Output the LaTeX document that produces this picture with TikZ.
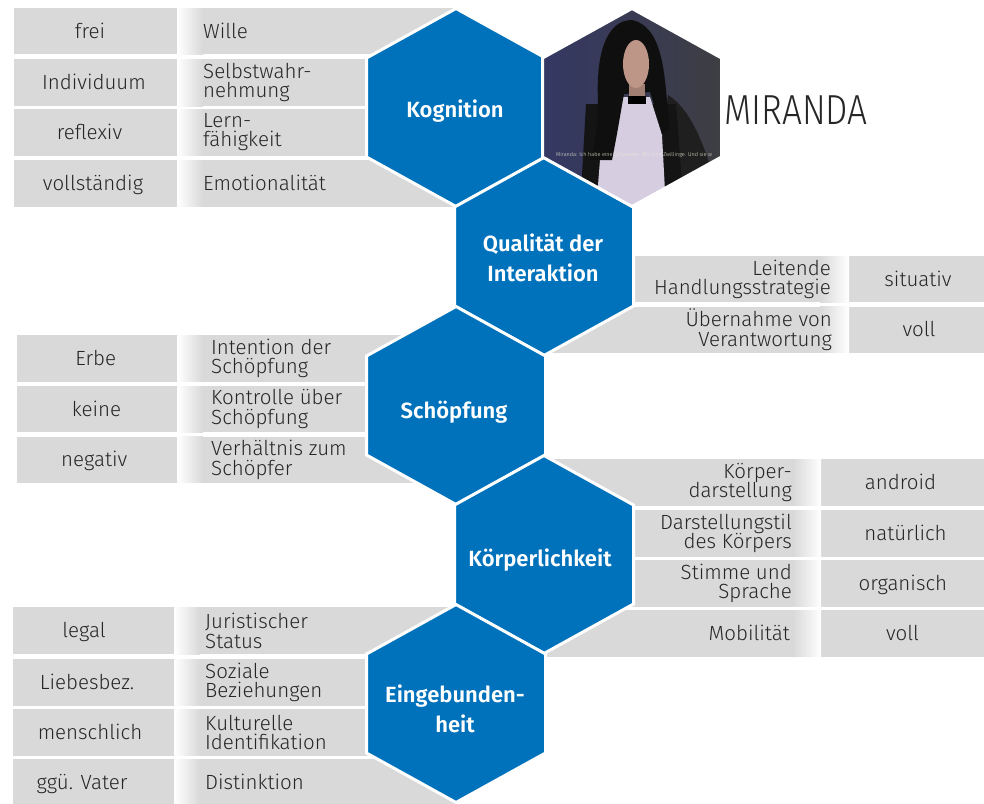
\documentclass[tikz,border=0pt]{standalone}
\usepackage{fontspec}
\setmainfont{Fira Sans Light}
\newfontfamily\hexfont{Fira Sans SemiBold}
\definecolor{hexblue}{RGB}{0,114,187}
\definecolor{bargray}{RGB}{217,217,217}
\definecolor{txt}{RGB}{38,38,38}
\definecolor{skin}{RGB}{190,150,135}
\definecolor{dress}{RGB}{214,205,225}
\definecolor{subcol}{RGB}{235,235,210}
\newcommand\hexshape[2]{(#1,#2-99) -- (#1+89.5,#2-49.5) -- (#1+89.5,#2+49.5) -- (#1,#2+99) -- (#1-89.5,#2+49.5) -- (#1-89.5,#2-49.5) -- cycle}
\tikzset{
  fadeL/.style={left color=white, right color=bargray},
  fadeR/.style={left color=bargray, right color=white},
  valtext/.style={font=\fontsize{20.5}{20}\selectfont, text=txt, inner sep=0pt, text height=14pt, text depth=0pt},
  onetext/.style={font=\fontsize{20.5}{20}\selectfont, text=txt, inner sep=0pt, text height=14pt, text depth=0pt},
  lbltext/.style={font=\fontsize{20.5}{19.5}\selectfont, text=txt, inner sep=0pt},
  hexbox/.style={fill=hexblue, draw=white, line width=3pt},
  hexlabel/.style={font=\hexfont\fontsize{22}{30}\selectfont, text=white, inner sep=0pt, align=center},
}
\begin{document}
\begin{tikzpicture}[x=1pt,y=-1pt]
\clip (0,0) rectangle (984,803);
\fill[white] (0,0) rectangle (984,803);

% ---- bars: Kognition (left)
\foreach \t/\b in {8.3/54.3, 59.3/106, 109/155.7, 160/206.7}{
  \fill[bargray] (14,\t) rectangle (456,\b);
  \shade[fadeL] (177,\t) rectangle (203,\b);
}
% ---- bars: Qualitaet (right)
\foreach \t/\b in {256/302.3, 306.7/352.7}{
  \fill[bargray] (544,\t) rectangle (984,\b);
  \shade[fadeR] (820,\t) rectangle (849,\b);
}
% ---- bars: Schoepfung (left)
\foreach \t/\b in {335/381.7, 386/432.3, 436.7/482.7}{
  \fill[bargray] (16.7,\t) rectangle (456,\b);
  \shade[fadeL] (177.3,\t) rectangle (203,\b);
}
% ---- bars: Koerperlichkeit (right)
\foreach \t/\b in {459/505.7, 510/556.7, 560/606.7, 610/656.7}{
  \fill[bargray] (544,\t) rectangle (984,\b);
  \shade[fadeR] (793,\t) rectangle (821,\b);
}
% ---- bars: Eingebundenheit (left)
\foreach \t/\b in {607.3/654.3, 659/705.7, 709/755.7, 759.3/806}{
  \fill[bargray] (13.3,\t) rectangle (456,\b);
  \shade[fadeL] (174.3,\t) rectangle (200,\b);
}

% ---- texts Kognition
\node[valtext] (kv1) at (90,31.3) {frei};
\node[valtext] (kv2) at (94,82.7) {Individuum};
\node[valtext] (kv3) at (89.5,132.3) {reflexiv};
\node[valtext] (kv4) at (93,183.3) {vollständig};
\node[onetext, anchor=west] (kl1) at (203,31.3) {Wille};
\node[lbltext, anchor=west, align=left] (kl2) at (203,82.7) {Selbstwahr-\\nehmung};
\node[lbltext, anchor=west, align=left] (kl3) at (203,132.3) {Lern-\\fähigkeit};
\node[onetext, anchor=west] (kl4) at (203,183.3) {Emotionalität};

% ---- texts Qualitaet
\node[lbltext, anchor=east, align=right] (ql1) at (831,279.2) {Leitende\\Handlungsstrategie};
\node[lbltext, anchor=east, align=right] (ql2) at (832,329.7) {Übernahme von\\Verantwortung};
\node[valtext] (qv1) at (918,279.2) {situativ};
\node[valtext] (qv2) at (919,329.7) {voll};

% ---- texts Schoepfung
\node[valtext] (sv1) at (95.7,358.3) {Erbe};
\node[valtext] (sv2) at (96.5,409.2) {keine};
\node[valtext] (sv3) at (94.2,459.7) {negativ};
\node[lbltext, anchor=west, align=left] (sl1) at (211,358.3) {Intention der\\Schöpfung};
\node[lbltext, anchor=west, align=left] (sl2) at (211,409.2) {Kontrolle über\\Schöpfung};
\node[lbltext, anchor=west, align=left] (sl3) at (211,459.7) {Verhältnis zum\\Schöpfer};

% ---- texts Koerperlichkeit
\node[lbltext, anchor=east, align=right] (pl1) at (792,482.3) {Körper-\\darstellung};
\node[lbltext, anchor=east, align=right] (pl2) at (792,533.3) {Darstellungstil\\des Körpers};
\node[lbltext, anchor=east, align=right] (pl3) at (792,583.3) {Stimme und\\Sprache};
\node[onetext, anchor=east] (pl4) at (790,633.3) {Mobilität};
\node[valtext] (pv1) at (900.5,482.3) {android};
\node[valtext] (pv2) at (905.5,533.3) {natürlich};
\node[valtext] (pv3) at (902.8,583.3) {organisch};
\node[valtext] (pv4) at (902.5,633.3) {voll};

% ---- texts Eingebundenheit
\node[valtext] (ev1) at (84,630.8) {legal};
\node[valtext] (ev2) at (87,682.3) {Liebesbez.};
\node[valtext] (ev3) at (90,732.3) {menschlich};
\node[valtext] (ev4) at (82,782.6) {ggü. Vater};
\node[lbltext, anchor=west, align=left] (el1) at (205,630.8) {Juristischer\\Status};
\node[lbltext, anchor=west, align=left] (el2) at (205,682.3) {Soziale\\Beziehungen};
\node[lbltext, anchor=west, align=left] (el3) at (205,732.3) {Kulturelle\\Identifikation};
\node[onetext, anchor=west] (el4) at (205,782.6) {Distinktion};

% ---- hexagons
\draw[hexbox] \hexshape{456}{107.5};
\draw[hexbox] \hexshape{544}{256.5};
\draw[hexbox] \hexshape{456}{405.5};
\draw[hexbox] \hexshape{544}{554.5};
\draw[hexbox] \hexshape{456}{703.5};

% ---- photo hexagon
\begin{scope}
  \clip \hexshape{632}{107.5};
  \shade[left color={rgb,255:red,52;green,56;blue,100}, right color={rgb,255:red,62;green,62;blue,66}] (540,5) rectangle (725,210);
  \fill[black!88] (668,95) .. controls (692,110) and (708,150) .. (722,210) -- (655,210) -- cycle;
  \fill[black!92] (586,104) -- (676,104) -- (684,210) -- (580,210) -- cycle;
  \fill[dress] (622,97) -- (650,97) -- (662,135) -- (666,210) -- (596,210) -- (602,135) -- cycle;
  \fill[black!94] (632,20) .. controls (604,20) and (596,60) .. (598,100) .. controls (598,128) and (594,148) .. (590,160) -- (612,160) .. controls (618,130) and (621,110) .. (624,94) -- (650,92) .. controls (655,108) and (660,122) .. (662,134) -- (670,128) .. controls (664,90) and (668,28) .. (632,20) -- cycle;
  \fill[skin!85!black] (629,84) rectangle (645,100);
  \fill[skin] (636,64) ellipse [x radius=13pt, y radius=24pt];
  \fill[black] (628,96) rectangle (646,104);
  \node[font=\fontsize{5.5}{6}\selectfont, text=subcol, anchor=west, inner sep=0pt] (sub) at (556,155) {Miranda: Ich habe eine Schwester. Wir sind Zwillinge. Und sie w};
\end{scope}
\draw[white, line width=3pt] \hexshape{632}{107.5};

% ---- hexagon labels
\node[hexlabel, anchor=base] (kog) at (455,117) {Kognition};
\node[hexlabel] (qual) at (543,258) {Qualität der\\Interaktion};
\node[hexlabel, anchor=base] (schoe) at (454,418) {Schöpfung};
\node[hexlabel, anchor=base] (koer) at (540,566.5) {Körperlichkeit};
\node[hexlabel] (eing) at (455,709) {Eingebunden-\\heit};

% ---- title
\node[font=\fontsize{42}{42}\selectfont, text=txt, anchor=base west, inner sep=0pt] (mir) at (724,124) {\scalebox{0.84}[1]{MIRANDA}};
\end{tikzpicture}
\end{document}
